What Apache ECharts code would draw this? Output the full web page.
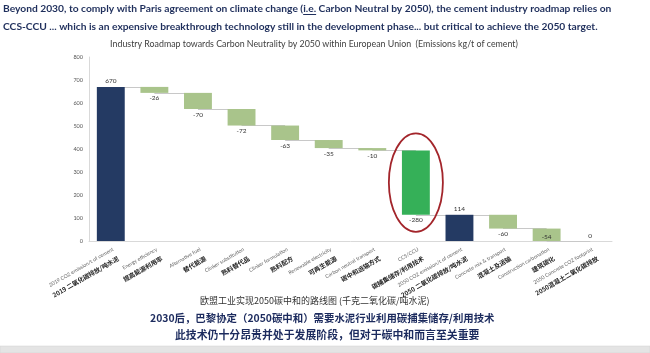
<!DOCTYPE html>
<html><head><meta charset="utf-8">
<script src="https://cdn.jsdelivr.net/npm/echarts@6/dist/echarts.min.js"></script>
<style>html,body{margin:0;padding:0;background:#fff}#c{width:650px;height:353px}</style>
</head><body><div id="c"></div>
<script>
// ---- data ----
const categoriesEn = ['2019 CO2 emission/t of cement','Energy efficiency','Alternative fuel','Clinker substitution','Clinker formulation','Renewable electricity','Carbon neutral transport','CCS/CCU','2050 CO2 emission/t of cement','Concrete mix & transport','Construction carbonation','2050 Concrete CO2 footprint'];
const categoriesZh = ['2019 二氧化碳排放/吨水泥','提高能源利用率','替代能源','熟料替代品','熟料配方','可再生能源','碳中和运输方式','碳捕集储存/利用技术','2050 二氧化碳排放/吨水泥','混凝土及运输','建筑碳化','2050混凝土二氧化碳排放'];
const values = [670,-26,-70,-72,-63,-35,-10,-280,114,-60,-54,0];
const kinds = ['total','delta','delta','delta','delta','delta','delta','delta','total','delta','delta','total'];
const yTicks = {min:0, max:800, interval:100};
const highlightCategory = 'CCS/CCU';
const headline1 = 'Beyond 2030, to comply with Paris agreement on climate change (i.e. Carbon Neutral by 2050), the cement industry roadmap relies on';
const headline2 = 'CCS-CCU ... which is an expensive breakthrough technology still in the development phase... but critical to achieve the 2050 target.';
const chartTitle = 'Industry Roadmap towards Carbon Neutrality by 2050 within European Union  (Emissions kg/t of cement)';
const zh1 = '欧盟工业实现2050碳中和的路线图 (千克二氧化碳/吨水泥)';
const zh2 = '2030后，巴黎协定（2050碳中和）需要水泥行业利用碳捕集储存/利用技术';
const zh3 = '此技术仍十分昂贵并处于发展阶段，但对于碳中和而言至关重要';

// ---- styles ----
const NAVY = '#243a63', LIGHTG = '#a9c48b', BRIGHTG = '#35b058';
const ctx = document.createElement('canvas').getContext('2d');
function fit(text, weight, family, w){ ctx.font = weight+' 100px '+family; return 100*w/ctx.measureText(text).width; }
function meas(text, weight, size, family){ ctx.font = weight+' '+size+'px '+family; return ctx.measureText(text).width; }

// ---- waterfall computation ----
const base=[], height=[], levels=[];
let run=0;
values.forEach((v,i)=>{
  if(kinds[i]==='total'){ base.push(0); height.push(v); run=v; }
  else { const nr=run+v; base.push(Math.min(run,nr)); height.push(Math.abs(v)); run=nr; }
  levels.push(run);
});
const valData = values.map((v,i)=>{
  const isTotal = kinds[i]==='total';
  let color = isTotal?NAVY:(categoriesEn[i]===highlightCategory?BRIGHTG:LIGHTG);
  let pos = isTotal?'top':(base[i]===0?'insideBottom':'bottom');
  return {value:height[i], itemStyle:{color}, label:{position:pos, formatter:String(v), distance: pos==='insideBottom'?1:2}};
});
const connectors = [];
for(let i=0;i<values.length-1;i++) connectors.push([{coord:[i,levels[i]]},{coord:[i+1,levels[i]]}]);

const HF = 'Lato';
const hSize = fit(headline1,'bold',HF,609);
const tSize = fit(chartTitle,'normal',HF,408);
const ZF = '"Noto Sans CJK SC"';
const z1 = fit(zh1,'normal',ZF,230), z2 = fit(zh2,'bold',ZF,345), z3 = fit(zh3,'bold',ZF,305);
const pre = 'Beyond 2030, to comply with Paris agreement on climate change (';
const ulX = 3+meas(pre,'bold',hSize,HF), ulW = meas('i.e.','bold',hSize,HF);

const chart = echarts.init(document.getElementById('c'), null, {renderer:'canvas'});
const graphics = [
  {id:'h1',type:'text',style:{text:headline1,x:3,y:9,fontSize:hSize,fontFamily:HF,fontWeight:'bold',fill:'#1f2f5c',textVerticalAlign:'middle'}},
  {id:'ul',type:'line',shape:{x1:ulX,y1:14.5,x2:ulX+ulW,y2:14.5},style:{stroke:'#1f2f5c',lineWidth:1}},
  {id:'h2',type:'text',style:{text:headline2,x:3,y:27,fontSize:hSize,fontFamily:HF,fontWeight:'bold',fill:'#1f2f5c',textVerticalAlign:'middle'}},
  {id:'t',type:'text',style:{text:chartTitle,x:314,y:44,fontSize:tSize,fontFamily:HF,fill:'#404040',textAlign:'center',textVerticalAlign:'middle'}},
  {id:'z1',type:'text',style:{text:zh1,x:200,y:301,fontSize:z1,fontFamily:ZF,fill:'#333',textVerticalAlign:'middle'}},
  {id:'z2',type:'text',style:{text:zh2,x:150,y:318,fontSize:z2,fontFamily:ZF,fontWeight:'bold',fill:'#1c2b5e',textVerticalAlign:'middle'}},
  {id:'z3',type:'text',style:{text:zh3,x:175,y:335,fontSize:z3,fontFamily:ZF,fontWeight:'bold',fill:'#1c2b5e',textVerticalAlign:'middle'}},
  {id:'band',type:'rect',shape:{x:0,y:346,width:650,height:7},style:{fill:'#e4e4e4',stroke:'#d0d0d0',lineWidth:0.5}}
];
chart.setOption({
  animation:false,
  grid:{left:89,right:38,top:57,bottom:112,containLabel:false},
  xAxis:{type:'category',data:categoriesEn.map((e,i)=>'{en|'+e+'}\n{zh|'+categoriesZh[i]+'}'),
    axisLine:{lineStyle:{color:'#d9d9d9'}},axisTick:{show:false},
    axisLabel:{interval:0,rotate:30,margin:4,verticalAlign:'top',
      rich:{en:{fontSize:5.2,color:'#666',fontFamily:'Lato',lineHeight:9,align:'right'},
            zh:{fontSize:6.3,color:'#222',fontWeight:'bold',fontFamily:ZF,lineHeight:12,align:'right'}}}},
  yAxis:{type:'value',min:yTicks.min,max:yTicks.max,interval:yTicks.interval,
    axisLine:{show:true,lineStyle:{color:'#d9d9d9'}},axisTick:{show:false},splitLine:{show:false},
    axisLabel:{fontSize:5.5,color:'#555',margin:6,fontFamily:'Lato'}},
  series:[
    {type:'bar',stack:'w',data:base,barWidth:'64%',itemStyle:{color:'transparent'},silent:true,z:1,
     markLine:{silent:true,symbol:'none',label:{show:false},lineStyle:{color:'#c8c8c8',width:1,type:'solid'},data:connectors,z:1}},
    {type:'bar',stack:'w',data:valData,barWidth:'64%',z:3,
     label:{show:true,fontSize:6.5,color:'#333',fontFamily:'Lato'}}
  ],
  graphic:graphics
});
// annotation ellipse around highlighted bar (from data coords)
const hi = categoriesEn.indexOf(highlightCategory);
const pTop = chart.convertToPixel({gridIndex:0},[hi, base[hi]+height[hi]]);
const pBot = chart.convertToPixel({gridIndex:0},[hi, base[hi]]);
const step = chart.convertToPixel({gridIndex:0},[hi+1,0])[0]-pTop[0];
chart.setOption({graphic:graphics.concat([{id:'ell',type:'ellipse',shape:{cx:pTop[0],cy:(pTop[1]+pBot[1])/2,rx:step*0.62,ry:(pBot[1]-pTop[1])/2+17},style:{fill:'none',stroke:'#a3252b',lineWidth:1.8},z:10}])});
</script></body></html>
